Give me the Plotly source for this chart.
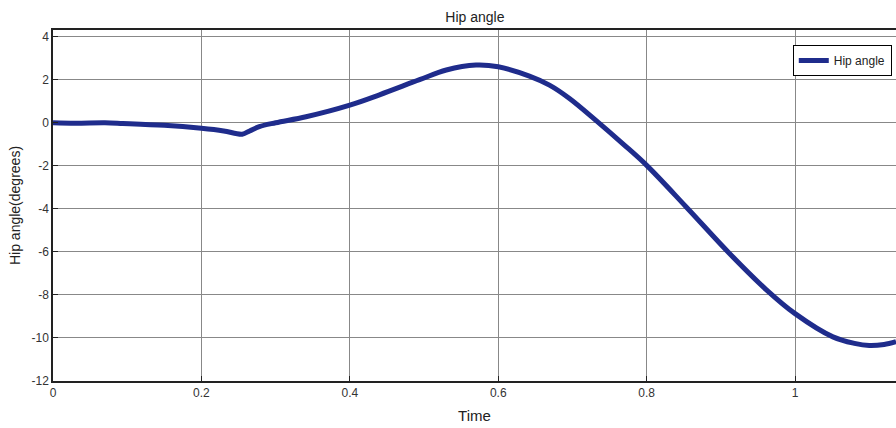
import plotly.graph_objects as go

time = [0.0, 0.03, 0.07, 0.094, 0.15, 0.2, 0.23, 0.255, 0.265, 0.278, 0.3, 0.341, 0.4, 0.44, 0.494, 0.53, 0.57,
        0.6, 0.642, 0.669, 0.696, 0.732, 0.768, 0.8, 0.853, 0.911, 0.961, 1.0, 1.051, 1.08, 1.1, 1.12, 1.136]
hip_angle = [0.0, -0.02, 0.0, -0.03, -0.12, -0.26, -0.38, -0.53, -0.38, -0.18, 0.0, 0.28, 0.82, 1.3, 2.0, 2.45,
             2.68, 2.6, 2.17, 1.75, 1.13, 0.1, -0.98, -1.98, -3.9, -6.05, -7.75, -8.87, -9.95, -10.25, -10.35,
             -10.3, -10.17]

x_ticks = [0, 0.2, 0.4, 0.6, 0.8, 1]
x_tick_labels = ["0", "0.2", "0.4", "0.6", "0.8", "1"]
y_ticks = [-12, -10, -8, -6, -4, -2, 0, 2, 4]
y_tick_labels = ["-12", "-10", "-8", "-6", "-4", "-2", "0", "2", "4"]

fig = go.Figure()
fig.add_trace(go.Scatter(x=time, y=hip_angle, mode="lines", name="Hip angle",
                         line=dict(color="#1f2c8c", width=5, shape="spline", smoothing=1.0)))

font = "Liberation Sans, Arial, sans-serif"
fig.update_layout(
    width=896, height=428,
    margin=dict(l=53, r=0, t=30, b=47),
    paper_bgcolor="white", plot_bgcolor="white",
    title=dict(text="Hip angle", x=0.53, xanchor="center", y=0.96, yanchor="middle",
               font=dict(family=font, size=14, color="#222")),
    font=dict(family=font, size=12, color="#333"),
    showlegend=True,
    legend=dict(x=0.995, y=0.957, xanchor="right", yanchor="top",
                bgcolor="white", bordercolor="black", borderwidth=1,
                font=dict(family=font, size=12, color="#222"),
                tracegroupgap=0),
    xaxis=dict(range=[0, 1.136], tickvals=x_ticks, ticktext=x_tick_labels, automargin=False,
               showgrid=True, gridcolor="#888", gridwidth=1,
               showline=True, linecolor="#222", linewidth=1.5, mirror=True,
               ticks="inside", ticklen=5, tickcolor="#222", zeroline=False,
               title=dict(text="Time", font=dict(family=font, size=15, color="#222"), standoff=11)),
    yaxis=dict(range=[-12, 4.31], tickvals=y_ticks, ticktext=y_tick_labels, automargin=False,
               showgrid=True, gridcolor="#888", gridwidth=1,
               showline=True, linecolor="#222", linewidth=1.5,
               ticks="inside", ticklen=5, tickcolor="#222", zeroline=False,
               title=dict(text="Hip angle(degrees)", font=dict(family=font, size=14, color="#222"), standoff=8)),
)

fig.write_html("out.html", config={"displayModeBar": False},
               post_script="document.body.style.margin='0';document.body.style.overflow='hidden';")
